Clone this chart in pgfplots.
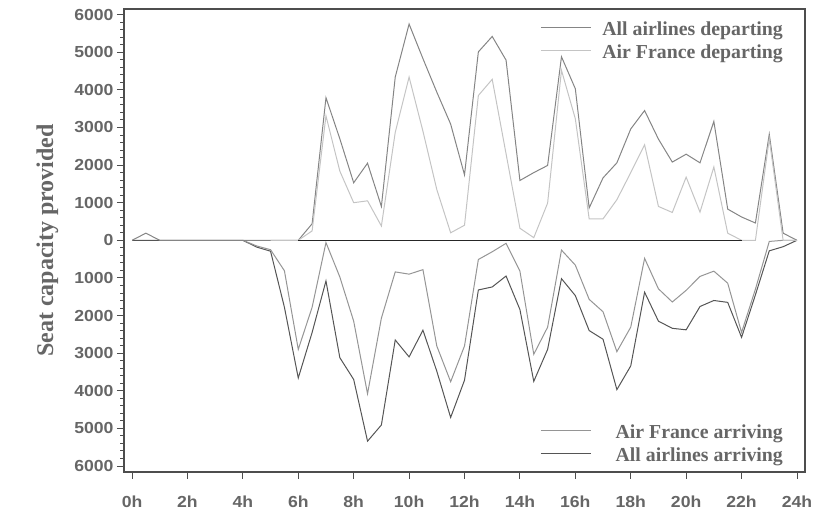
\documentclass[border=0pt]{standalone}
\usepackage{pgfplots}
\pgfplotsset{compat=1.18}
\usepackage{fontspec}
\setmainfont{Liberation Serif}
\newfontfamily\tickfont[FakeStretch=1.1]{Liberation Sans}

\definecolor{txt}{HTML}{666666}
\definecolor{frame}{HTML}{4D4D4D}
\definecolor{aadep}{HTML}{858585}
\definecolor{afdep}{HTML}{C4C4C4}
\definecolor{afarr}{HTML}{959595}
\definecolor{aaarr}{HTML}{555555}

\begin{document}
\begin{tikzpicture}
\begin{axis}[
  name=ax, at={(0,0)}, anchor=south west,
  width=681pt, height=463pt, scale only axis,
  xmin=-0.29, xmax=24.29, ymin=-6160, ymax=6150,
  axis line style={frame, line width=1.2pt},
  tick style={frame, line width=0.9pt},
  tick align=outside, tick pos=left,
  major tick length=7pt, minor tick length=3.5pt,
  xtick={0,2,...,24},
  xticklabels={0h,2h,4h,6h,8h,10h,12h,14h,16h,18h,20h,22h,24h},
  xticklabel style={yshift=-13pt},
  ytick={-6000,-5000,...,6000},
  yticklabels={6000,5000,4000,3000,2000,1000,0,1000,2000,3000,4000,5000,6000},
  minor y tick num=4,
  ticklabel style={font=\tickfont\bfseries\fontsize{16}{16}\selectfont, text=txt},
  every axis plot/.append style={line width=1pt, mark=none},
]
% arriving, all airlines
\addplot[aaarr] coordinates {
 (0,0) (0.5,0) (1,0) (1.5,0) (2,0) (2.5,0) (3,0) (3.5,0) (4,0)
 (4.5,-180) (5,-290) (5.5,-1780) (6,-3660) (6.5,-2450) (7,-1080) (7.5,-3120)
 (8,-3700) (8.5,-5340) (9,-4910) (9.5,-2650) (10,-3100) (10.5,-2390) (11,-3480)
 (11.5,-4710) (12,-3720) (12.5,-1320) (13,-1240) (13.5,-950) (14,-1840)
 (14.5,-3750) (15,-2900) (15.5,-1020) (16,-1470) (16.5,-2400) (17,-2630)
 (17.5,-3970) (18,-3340) (18.5,-1380) (19,-2150) (19.5,-2340) (20,-2380)
 (20.5,-1760) (21,-1600) (21.5,-1650) (22,-2580) (22.5,-1450) (23,-280)
 (23.5,-170) (24,0)
};
% arriving, Air France
\addplot[afarr] coordinates {
 (4,0) (4.5,-150) (5,-250) (5.5,-810) (6,-2900) (6.5,-1780) (7,-60) (7.5,-975)
 (8,-2150) (8.5,-4080) (9,-2070) (9.5,-840) (10,-900) (10.5,-780) (11,-2810)
 (11.5,-3760) (12,-2810) (12.5,-510) (13,-305) (13.5,-80) (14,-820)
 (14.5,-3030) (15,-2310) (15.5,-260) (16,-660) (16.5,-1570) (17,-1900)
 (17.5,-2960) (18,-2310) (18.5,-480) (19,-1290) (19.5,-1640) (20,-1330)
 (20.5,-960) (21,-820) (21.5,-1140) (22,-2450) (22.5,-1300) (23,-30)
 (23.5,0) (24,0)
};
% departing, all airlines
\addplot[aadep] coordinates {
 (0,0) (0.5,190) (1,0) (1.5,0) (2,0) (2.5,0) (3,0) (3.5,0) (4,0) (4.5,0)
 (5,0) (5.5,0) (6,0) (6.5,440) (7,3790) (7.5,2700) (8,1530) (8.5,2050)
 (9,900) (9.5,4340) (10,5750) (10.5,4830) (11,3940) (11.5,3090) (12,1740)
 (12.5,5010) (13,5420) (13.5,4790) (14,1590) (14.5,1800) (15,1990)
 (15.5,4880) (16,4030) (16.5,860) (17,1660) (17.5,2060) (18,2960)
 (18.5,3450) (19,2690) (19.5,2080) (20,2290) (20.5,2060) (21,3160)
 (21.5,830) (22,620) (22.5,460) (23,2820) (23.5,190) (24,0)
};
% departing, Air France
\addplot[afdep] coordinates {
 (5,0) (5.5,0) (6,0) (6.5,250) (7,3310) (7.5,1840) (8,1000) (8.5,1050)
 (9,380) (9.5,2870) (10,4340) (10.5,2900) (11,1350) (11.5,200) (12,400)
 (12.5,3850) (13,4280) (13.5,2300) (14,320) (14.5,70) (15,990) (15.5,4520)
 (16,3230) (16.5,570) (17,570) (17.5,1080) (18,1800) (18.5,2540) (19,900)
 (19.5,740) (20,1680) (20.5,750) (21,1950) (21.5,190) (22,0) (22.5,0)
 (23,2700) (23.5,0) (24,0)
};
% zero line
\addplot[black!85, line width=1.2pt] coordinates {(6,0) (22,0)};

% legends
\draw[aadep, line width=1pt] (rel axis cs:0.6123,0.960) -- (rel axis cs:0.6858,0.960);
\draw[afdep, line width=1pt] (rel axis cs:0.6123,0.9093) -- (rel axis cs:0.6858,0.9093);
\draw[afarr, line width=1pt] (rel axis cs:0.6123,0.0886) -- (rel axis cs:0.6858,0.0886);
\draw[aaarr, line width=1pt] (rel axis cs:0.6123,0.0389) -- (rel axis cs:0.6858,0.0389);
\begin{scope}[every node/.style={anchor=base east, inner sep=0pt, text=txt,
    font=\bfseries\fontsize{19.8}{22}\selectfont}]
\node at (rel axis cs:0.9677,0.9438) {All airlines departing};
\node at (rel axis cs:0.9677,0.8935) {Air France departing};
\node at (rel axis cs:0.9677,0.0734) {Air France arriving};
\node at (rel axis cs:0.9677,0.0222) {All airlines arriving};
\end{scope}
\end{axis}
\node[rotate=90, anchor=base, inner sep=0pt, text=txt,
  font=\bfseries\fontsize{24}{26}\selectfont]
  at ([xshift=-70.9pt]ax.west) {Seat capacity provided};
\pgfresetboundingbox
\path[use as bounding box] ([shift={(-124pt,-43pt)}]ax.south west) rectangle ([shift={(10pt,9pt)}]ax.north east);
\end{tikzpicture}
\end{document}
